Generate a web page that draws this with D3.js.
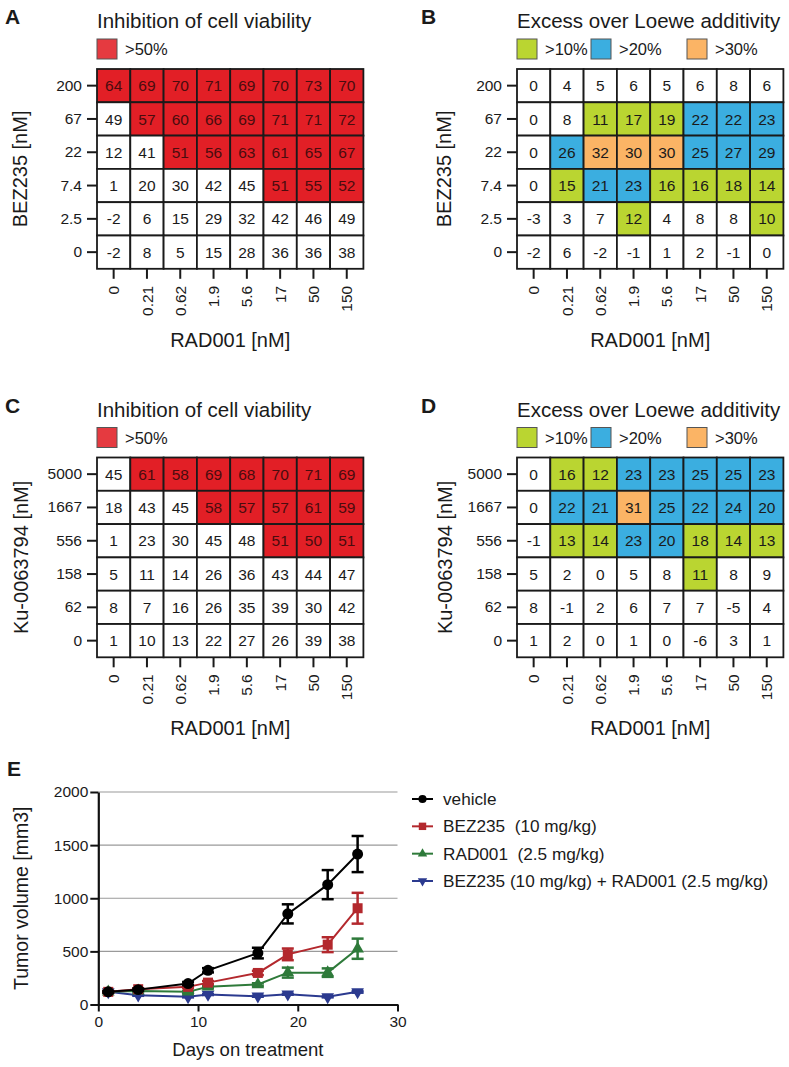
<!DOCTYPE html>
<html>
<head>
<meta charset="utf-8">
<script src="https://cdn.jsdelivr.net/npm/d3@7"></script>
<style>
html,body{margin:0;padding:0;background:#fff;}
svg{display:block;font-family:"Liberation Sans",Arial,Helvetica,sans-serif;}
</style>
</head>
<body>
<svg id="chart" width="789" height="1067"></svg>
<script>
// ---------------- DATA ----------------
const rad001Doses = ["0","0.21","0.62","1.9","5.6","17","50","150"];
const bez235Doses = ["200","67","22","7.4","2.5","0"];
const kuDoses = ["5000","1667","556","158","62","0"];

const inhibitionBEZ = [
  [64,69,70,71,69,70,73,70],
  [49,57,60,66,69,71,71,72],
  [12,41,51,56,63,61,65,67],
  [1,20,30,42,45,51,55,52],
  [-2,6,15,29,32,42,46,49],
  [-2,8,5,15,28,36,36,38]
];
const excessBEZ = [
  [0,4,5,6,5,6,8,6],
  [0,8,11,17,19,22,22,23],
  [0,26,32,30,30,25,27,29],
  [0,15,21,23,16,16,18,14],
  [-3,3,7,12,4,8,8,10],
  [-2,6,-2,-1,1,2,-1,0]
];
const inhibitionKU = [
  [45,61,58,69,68,70,71,69],
  [18,43,45,58,57,57,61,59],
  [1,23,30,45,48,51,50,51],
  [5,11,14,26,36,43,44,47],
  [8,7,16,26,35,39,30,42],
  [1,10,13,22,27,26,39,38]
];
const excessKU = [
  [0,16,12,23,23,25,25,23],
  [0,22,21,31,25,22,24,20],
  [-1,13,14,23,20,18,14,13],
  [5,2,0,5,8,11,8,9],
  [8,-1,2,6,7,7,-5,4],
  [1,2,0,1,0,-6,3,1]
];

const inhibitionThresholds = [50];
const inhibitionLabels = [">50%"];
const excessThresholds = [10,20,30];
const excessLabels = [">10%",">20%",">30%"];

const days = [1,4,9,11,16,19,23,26];
const vehicleMean = [119,140,197,322,484,853,1128,1416];
const vehicleErr  = [8,10,15,20,50,90,137,170];
const bezMean = [119,144,166,206,297,472,563,906];
const bezErr  = [6,8,12,15,20,55,70,145];
const radMean = [119,128,119,166,188,300,300,525];
const radErr  = [6,6,8,10,12,47,40,95];
const comboMean = [119,87,72,94,78,97,72,119];
const comboErr  = [5,5,5,5,5,5,5,8];
const seriesNames = ["vehicle","BEZ235  (10 mg/kg)","RAD001  (2.5 mg/kg)","BEZ235 (10 mg/kg) + RAD001 (2.5 mg/kg)"];
const yTicksE = [0,500,1000,1500,2000];
const xTicksE = [0,10,20,30];

// ---------------- STYLE ----------------
const RED = "#e21f26", RED_LEG = "#e53a40";
const GREEN = "#bad531", BLUE = "#3baee0", ORANGE = "#fbb465";

const svg = d3.select("#chart");

function heatmap(opt){
  const cell = 33.3;
  const g = svg.append("g");
  const x = d3.scaleBand().domain(rad001Doses).range([opt.x0, opt.x0 + cell*8]);
  const y = d3.scaleBand().domain(opt.rows).range([opt.y0, opt.y0 + cell*6]);
  const color = d3.scaleThreshold().domain(opt.thresholds).range(["#ffffff"].concat(opt.colors));
  const cells = [];
  opt.data.forEach((row,i)=>row.forEach((v,j)=>cells.push({r:opt.rows[i],c:rad001Doses[j],v})));
  g.selectAll("rect.cell").data(cells).join("rect")
    .attr("x",d=>x(d.c)).attr("y",d=>y(d.r))
    .attr("width",x.bandwidth()).attr("height",y.bandwidth())
    .attr("fill",d=>color(d.v)).attr("stroke","#1a1a1a").attr("stroke-width",1.8);
  g.selectAll("text.val").data(cells).join("text")
    .attr("x",d=>x(d.c)+x.bandwidth()/2).attr("y",d=>y(d.r)+y.bandwidth()/2)
    .attr("dy","0.36em").attr("text-anchor","middle").attr("font-size",15.5)
    .attr("fill",d=>color(d.v)===RED ? "#4a0c0e" : "#1a1a1a")
    .text(d=>d.v);
  // y axis
  const ya = g.append("g").attr("transform",`translate(${opt.x0},0)`)
    .call(d3.axisLeft(y).tickSize(10).tickPadding(5).tickSizeOuter(0));
  ya.select(".domain").remove();
  ya.selectAll("line").attr("stroke","#1a1a1a").attr("stroke-width",2);
  ya.selectAll("text").attr("font-size",15.5).attr("fill","#1a1a1a").attr("font-family",null);
  // x axis
  const xa = g.append("g").attr("transform",`translate(0,${opt.y0+cell*6})`)
    .call(d3.axisBottom(x).tickSize(10).tickSizeOuter(0));
  xa.select(".domain").remove();
  xa.selectAll("line").attr("stroke","#1a1a1a").attr("stroke-width",2);
  xa.selectAll("text").attr("font-size",15.5).attr("fill","#1a1a1a").attr("font-family",null)
    .attr("transform","rotate(-90)").attr("x",-17).attr("y",0).attr("dy","0.36em")
    .attr("text-anchor","end");
  // titles
  g.append("text").attr("x",opt.x0).attr("y",opt.y0-41).attr("font-size",20.5).attr("fill","#1a1a1a").text(opt.title);
  g.append("text").attr("x",opt.labelX).attr("y",opt.y0-45).attr("font-size",21).attr("font-weight","bold").attr("fill","#1a1a1a").text(opt.letter);
  g.append("text").attr("x",opt.x0+cell*4).attr("y",opt.y0+cell*6+78).attr("text-anchor","middle").attr("font-size",20).attr("fill","#1a1a1a").text("RAD001 [nM]");
  g.append("text").attr("transform",`translate(${opt.yTitleX},${opt.y0+cell*3}) rotate(-90)`).attr("text-anchor","middle").attr("font-size",20).attr("fill","#1a1a1a").text(opt.yTitle);
  // legend
  opt.legend.forEach((l,i)=>{
    const lx = opt.x0 + opt.legendOffsets[i];
    g.append("rect").attr("x",lx).attr("y",opt.y0-30).attr("width",20).attr("height",20)
      .attr("fill",l.color).attr("stroke","#555").attr("stroke-width",1);
    g.append("text").attr("x",lx+28).attr("y",opt.y0-14).attr("font-size",16.5).attr("fill","#1a1a1a").text(l.label);
  });
}

const inhLegend = inhibitionLabels.map((t,i)=>({label:t,color:RED_LEG}));
const excLegend = excessLabels.map((t,i)=>({label:t,color:[GREEN,BLUE,ORANGE][i]}));

heatmap({x0:97,y0:69,rows:bez235Doses,data:inhibitionBEZ,thresholds:inhibitionThresholds,colors:[RED],
  title:"Inhibition of cell viability",letter:"A",labelX:5,yTitle:"BEZ235 [nM]",yTitleX:27,
  legend:inhLegend,legendOffsets:[0]});
heatmap({x0:517,y0:69,rows:bez235Doses,data:excessBEZ,thresholds:excessThresholds,colors:[GREEN,BLUE,ORANGE],
  title:"Excess over Loewe additivity",letter:"B",labelX:421,yTitle:"BEZ235 [nM]",yTitleX:451,
  legend:excLegend,legendOffsets:[0,74,170]});
heatmap({x0:97,y0:457.5,rows:kuDoses,data:inhibitionKU,thresholds:inhibitionThresholds,colors:[RED],
  title:"Inhibition of cell viability",letter:"C",labelX:5,yTitle:"Ku-0063794 [nM]",yTitleX:28,
  legend:inhLegend,legendOffsets:[0]});
heatmap({x0:517,y0:457.5,rows:kuDoses,data:excessKU,thresholds:excessThresholds,colors:[GREEN,BLUE,ORANGE],
  title:"Excess over Loewe additivity",letter:"D",labelX:421,yTitle:"Ku-0063794 [nM]",yTitleX:452,
  legend:excLegend,legendOffsets:[0,74,170]});

// ---------------- PANEL E ----------------
const gE = svg.append("g");
const xE = d3.scaleLinear().domain([0,30]).range([98.3,397.5]);
const yE = d3.scaleLinear().domain([0,2000]).range([1004.5,792]);

gE.append("g").selectAll("line").data(yTicksE.filter(v=>v>0)).join("line")
  .attr("x1",xE(0)).attr("x2",xE(30)).attr("y1",d=>yE(d)).attr("y2",d=>yE(d))
  .attr("stroke","#9a9a9a").attr("stroke-width",1.2);

const yaE = gE.append("g").attr("transform",`translate(${xE(0)},0)`)
  .call(d3.axisLeft(yE).tickValues(yTicksE).tickFormat(d3.format("d")).tickSize(8).tickPadding(2).tickSizeOuter(0));
yaE.select(".domain").attr("stroke","#111").attr("stroke-width",2.2);
yaE.selectAll("line").attr("stroke","#111").attr("stroke-width",2);
yaE.selectAll("text").attr("font-size",15.5).attr("fill","#1a1a1a").attr("font-family",null);

const xaE = gE.append("g").attr("transform",`translate(0,${yE(0)})`)
  .call(d3.axisBottom(xE).tickValues(xTicksE).tickSize(7).tickPadding(4).tickSizeOuter(0));
xaE.select(".domain").attr("stroke","#111").attr("stroke-width",2.2);
xaE.selectAll("line").attr("stroke","#111").attr("stroke-width",2);
xaE.selectAll("text").attr("font-size",15.5).attr("fill","#1a1a1a").attr("font-family",null);

gE.append("text").attr("x",7).attr("y",776).attr("font-size",21).attr("font-weight","bold").attr("fill","#1a1a1a").text("E");
gE.append("text").attr("x",(xE(0)+xE(30))/2).attr("y",1056).attr("text-anchor","middle").attr("font-size",18.5).attr("fill","#1a1a1a").text("Days on treatment");
gE.append("text").attr("transform",`translate(28,${(yE(0)+yE(2000))/2}) rotate(-90)`).attr("text-anchor","middle").attr("font-size",19.5).attr("fill","#1a1a1a").text("Tumor volume [mm3]");

const series = [
  {name:seriesNames[0],mean:vehicleMean,err:vehicleErr,color:"#000000",sym:d3.symbolCircle,size:95},
  {name:seriesNames[1],mean:bezMean,err:bezErr,color:"#b3282d",sym:d3.symbolSquare,size:100},
  {name:seriesNames[2],mean:radMean,err:radErr,color:"#2e7a3a",sym:d3.symbolTriangle,size:70},
  {name:seriesNames[3],mean:comboMean,err:comboErr,color:"#2b3a8f",sym:d3.symbolTriangle,size:70,down:true}
];
const line = d3.line().x(d=>xE(d.x)).y(d=>yE(d.y));
series.slice().reverse().forEach(s=>{
  const pts = days.map((d,i)=>({x:d,y:s.mean[i],e:s.err[i]}));
  const sg = gE.append("g");
  sg.append("path").datum(pts).attr("d",line).attr("fill","none").attr("stroke",s.color).attr("stroke-width",2);
  const eb = sg.selectAll("g.eb").data(pts).join("g");
  eb.append("line").attr("x1",d=>xE(d.x)).attr("x2",d=>xE(d.x)).attr("y1",d=>yE(d.y-d.e)).attr("y2",d=>yE(d.y+d.e)).attr("stroke",s.color).attr("stroke-width",2.5);
  eb.append("line").attr("x1",d=>xE(d.x)-6).attr("x2",d=>xE(d.x)+6).attr("y1",d=>yE(d.y+d.e)).attr("y2",d=>yE(d.y+d.e)).attr("stroke",s.color).attr("stroke-width",2.5);
  eb.append("line").attr("x1",d=>xE(d.x)-6).attr("x2",d=>xE(d.x)+6).attr("y1",d=>yE(d.y-d.e)).attr("y2",d=>yE(d.y-d.e)).attr("stroke",s.color).attr("stroke-width",2.5);
  sg.selectAll("path.pt").data(pts).join("path")
    .attr("transform",d=>`translate(${xE(d.x)},${yE(d.y)})${s.down?" rotate(180)":""}`)
    .attr("d",d3.symbol().type(s.sym).size(s.size)).attr("fill",s.color);
});

// legend E
const legY = d3.scalePoint().domain(seriesNames).range([799,881]);
series.forEach(s=>{
  const ly = legY(s.name);
  gE.append("line").attr("x1",412).attr("x2",433).attr("y1",ly).attr("y2",ly).attr("stroke",s.color).attr("stroke-width",2);
  gE.append("path").attr("transform",`translate(422.5,${ly})${s.down?" rotate(180)":""}`)
    .attr("d",d3.symbol().type(s.sym).size(s.size*0.55)).attr("fill",s.color);
  gE.append("text").attr("x",443).attr("y",ly).attr("dy","0.35em").attr("font-size",17.2).attr("fill","#1a1a1a")
    .style("white-space","pre").text(s.name);
});
</script>
</body>
</html>
